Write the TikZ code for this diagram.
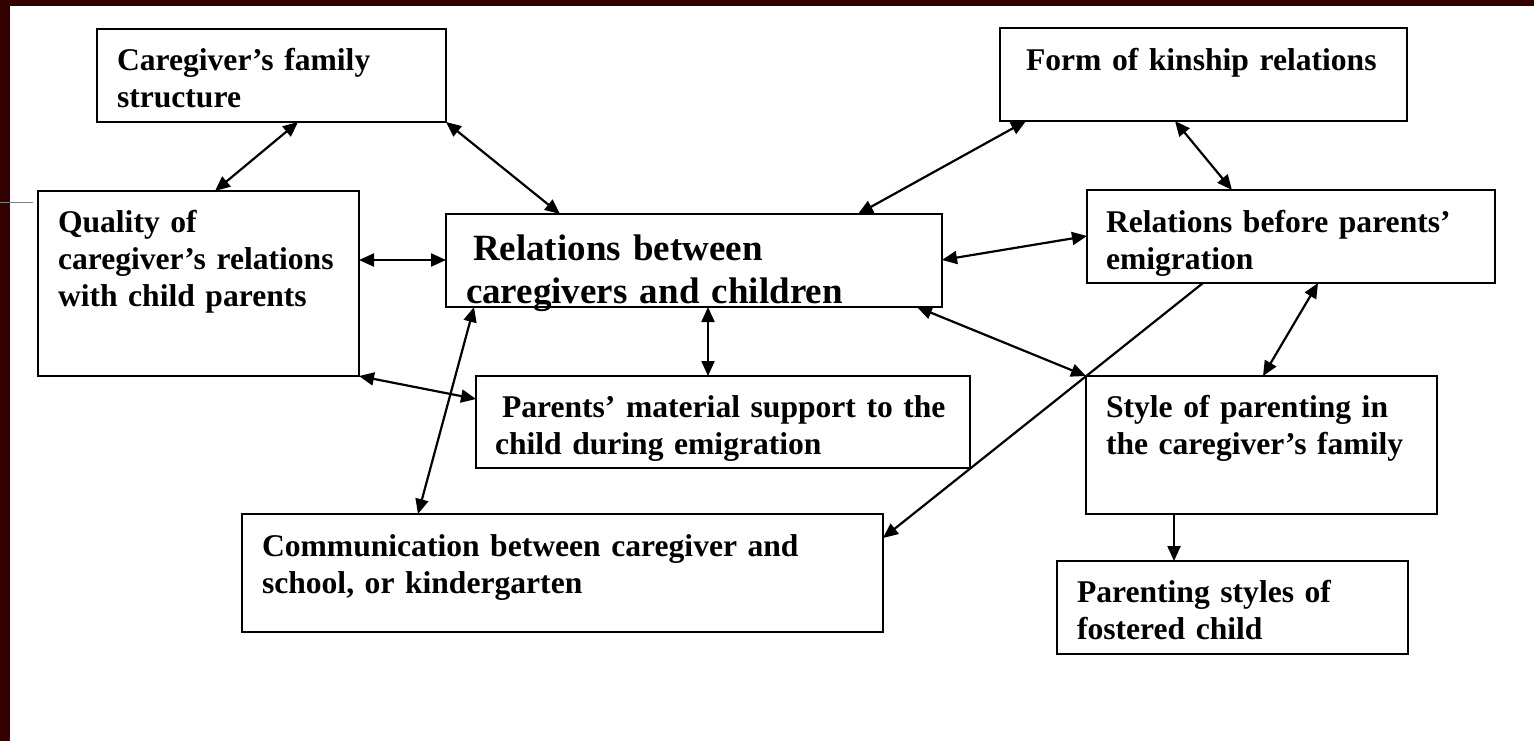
\documentclass[tikz,border=0pt]{standalone}
\usepackage{fontspec}
\setmainfont{Liberation Serif}
\usetikzlibrary{arrows.meta,calc}
\definecolor{framered}{RGB}{51,0,0}
\begin{document}
\begin{tikzpicture}[
  x=0.5pt,
  y=-0.5pt,
  mybox/.style={
    draw,
    line width=1.3pt,
    anchor=north west,
    align=left,
    inner ysep=0pt,
    outer sep=0pt,
    font=\bfseries\fontsize{15.8}{18.5}\selectfont
  },
  twoway/.style={
    line width=1.1pt,
    {Triangle[length=7.5pt,width=6.5pt]}-{Triangle[length=7.5pt,width=6.5pt]}
  },
  oneway/.style={
    line width=1.1pt,
    -{Triangle[length=7.5pt,width=6.5pt]}
  }
]
\useasboundingbox (0,0) rectangle (1534,741);
\fill[white] (0,0) rectangle (1534,741);
\fill[framered] (0,0) rectangle (1534,6);
\fill[framered] (0,0) rectangle (10,741);
\draw[gray,line width=0.5pt] (0,202) -- (33,202);
\node[mybox,inner xsep=10pt,text width=154.5pt,text height=20.5pt,text depth=26pt] (fam) at (97,29) {Caregiver's family\\structure};
\node[mybox,inner xsep=13pt,text width=177.5pt,text height=21pt,text depth=25.5pt] (kin) at (1000,28) {Form of kinship relations};
\node[mybox,inner xsep=10pt,text width=140.5pt,text height=20.5pt,text depth=72pt] (qual) at (38,191) {Quality of\\caregiver's relations\\with child parents};
\node[mybox,inner xsep=10pt,text width=228pt,text height=23pt,text depth=23.5pt,font=\bfseries\fontsize{18.5}{21.5}\selectfont] (rel) at (446,214) {\hspace*{3.5pt}Relations between\\caregivers and children};
\node[mybox,inner xsep=9.5pt,text width=185pt,text height=21pt,text depth=25.5pt] (before) at (1087,190) {Relations before parents'\\emigration};
\node[mybox,inner xsep=9.5pt,text width=228pt,text height=20.5pt,text depth=25.5pt] (mat) at (476,376) {\hspace*{3.5pt}Parents' material support to the\\child during emigration};
\node[mybox,inner xsep=10pt,text width=300.5pt,text height=21pt,text depth=38pt] (comm) at (242,514) {Communication between caregiver and\\school, or kindergarten};
\node[mybox,inner xsep=10pt,text width=155.5pt,text height=20.5pt,text depth=48.5pt] (parstyle) at (1086,376) {Style of parenting in\\the caregiver's family};
\node[mybox,inner xsep=10pt,text width=155.5pt,text height=20.5pt,text depth=26pt] (foster) at (1057,561) {Parenting styles of\\fostered child};
\draw[twoway] ($(fam.south west)+(201,0)$) -- ($(qual.north west)+(177,0)$);
\draw[twoway] (fam.south east) -- ($(rel.north west)+(114,0)$);
\draw[twoway] ($(kin.south west)+(26,0)$) -- ($(rel.north west)+(412,0)$);
\draw[twoway] ($(kin.south west)+(175,0)$) -- ($(before.north west)+(145,0)$);
\draw[twoway] ($(qual.north east)+(0,69)$) -- ($(rel.north west)+(0,46)$);
\draw[twoway] ($(rel.north east)+(0,46)$) -- ($(before.north west)+(0,46)$);
\draw[twoway] (qual.south east) -- ($(mat.north west)+(0,23)$);
\draw[twoway] ($(rel.south west)+(28,0)$) -- ($(comm.north west)+(176,0)$);
\draw[twoway] ($(rel.south west)+(262,0)$) -- ($(mat.north west)+(232,0)$);
\draw[twoway] ($(rel.south west)+(471,0)$) -- (parstyle.north west);
\draw[oneway] ($(before.south west)+(116,0)$) -- ($(comm.north east)+(0,24)$);
\draw[twoway] ($(before.south west)+(231,0)$) -- ($(parstyle.north west)+(177,0)$);
\draw[oneway] ($(parstyle.south west)+(88,0)$) -- ($(foster.north west)+(117,0)$);
\end{tikzpicture}
\end{document}
